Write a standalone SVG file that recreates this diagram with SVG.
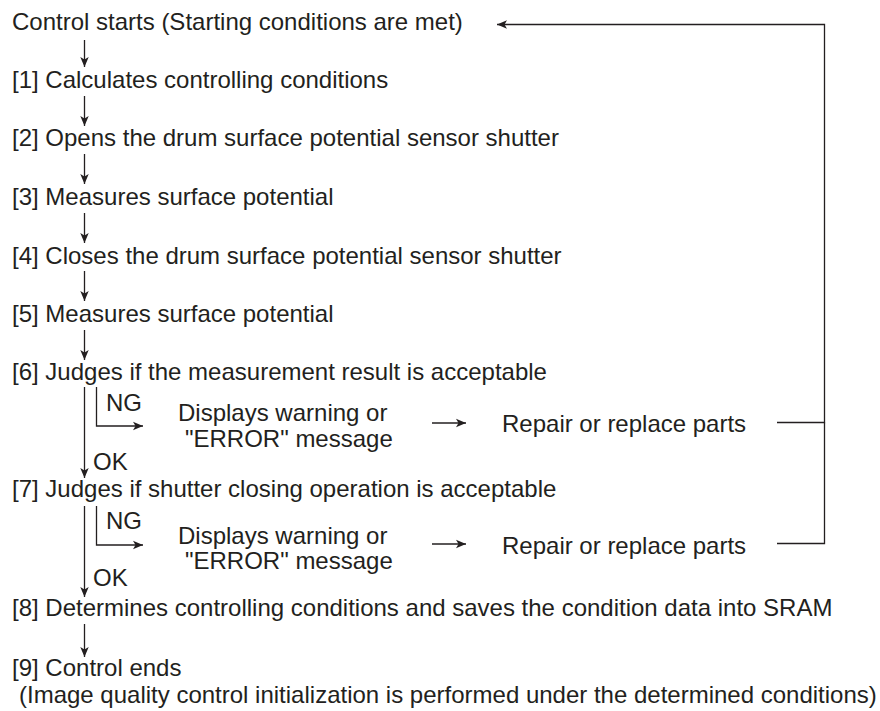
<svg xmlns="http://www.w3.org/2000/svg" width="880" height="711" viewBox="0 0 880 711">
<style>
text{font-family:"Liberation Sans",Arial,Helvetica,sans-serif;font-size:24px;fill:#231f20}
.c{fill:none;stroke:#231f20;stroke-width:1.3}
</style>
<defs>
<marker id="ah" markerUnits="userSpaceOnUse" markerWidth="12" markerHeight="10" refX="10" refY="5" orient="auto" viewBox="0 0 12 10">
<path d="M0,0.8 L10,5 L0,9.2 L2.5,5 z" fill="#231f20"/>
</marker>
</defs>
<rect width="880" height="711" fill="#fff"/>
<g id="connectors">
<path class="c" d="M84.5,40V67" marker-end="url(#ah)"/>
<path class="c" d="M84.5,96V126" marker-end="url(#ah)"/>
<path class="c" d="M84.5,154V184" marker-end="url(#ah)"/>
<path class="c" d="M84.5,213V243" marker-end="url(#ah)"/>
<path class="c" d="M84.5,271V301" marker-end="url(#ah)"/>
<path class="c" d="M84.5,330V360" marker-end="url(#ah)"/>
<path class="c" d="M84.5,387V478" marker-end="url(#ah)"/>
<path class="c" d="M84.5,506V597" marker-end="url(#ah)"/>
<path class="c" d="M84.5,624V657" marker-end="url(#ah)"/>
<path class="c" d="M96.5,387V426H143" marker-end="url(#ah)"/>
<path class="c" d="M96.5,506V545H143" marker-end="url(#ah)"/>
<path class="c" d="M432,423H466" marker-end="url(#ah)"/>
<path class="c" d="M432,544H466" marker-end="url(#ah)"/>
<path class="c" d="M777,422.5H824.5V24.5H497" marker-end="url(#ah)"/>
<path class="c" d="M777,543.5H824.5V422.5"/>
</g>
<g id="start"><text x="12" y="30">Control starts (Starting conditions are met)</text></g>
<g id="step1"><text x="12" y="88">[1] Calculates controlling conditions</text></g>
<g id="step2"><text x="12" y="146">[2] Opens the drum surface potential sensor shutter</text></g>
<g id="step3"><text x="12" y="205">[3] Measures surface potential</text></g>
<g id="step4"><text x="12" y="264">[4] Closes the drum surface potential sensor shutter</text></g>
<g id="step5"><text x="12" y="322">[5] Measures surface potential</text></g>
<g id="step6"><text x="12" y="380">[6] Judges if the measurement result is acceptable</text></g>
<g id="ng1"><text x="106" y="411">NG</text></g>
<g id="display1"><text x="178" y="421">Displays warning or</text><text x="185" y="447">"ERROR" message</text></g>
<g id="repair1"><text x="502" y="432">Repair or replace parts</text></g>
<g id="ok1"><text x="93" y="470">OK</text></g>
<g id="step7"><text x="12" y="497">[7] Judges if shutter closing operation is acceptable</text></g>
<g id="ng2"><text x="106" y="529">NG</text></g>
<g id="display2"><text x="178" y="544">Displays warning or</text><text x="185" y="569">"ERROR" message</text></g>
<g id="repair2"><text x="502" y="554">Repair or replace parts</text></g>
<g id="ok2"><text x="93" y="586">OK</text></g>
<g id="step8"><text x="12" y="616">[8] Determines controlling conditions and saves the condition data into SRAM</text></g>
<g id="step9"><text x="12" y="676">[9] Control ends</text><text x="19" y="703">(Image quality control initialization is performed under the determined conditions)</text></g>
</svg>
